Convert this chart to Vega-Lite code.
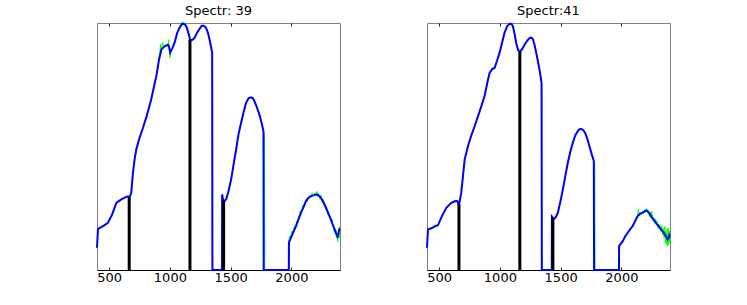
{
  "$schema": "https://vega.github.io/schema/vega-lite/v6.json",
  "background": "white",
  "padding": {"left": 92, "top": 4, "right": 0, "bottom": 0},
  "spacing": 77,
  "config": {
    "view": {"stroke": "#808080", "strokeWidth": 1},
    "title": {"font": "DejaVu Sans", "fontSize": 13, "fontWeight": "normal", "color": "black"},
    "axis": {"grid": false, "labelFont": "DejaVu Sans", "labelFontSize": 13, "labelColor": "black", "domainColor": "black", "tickColor": "#222222"}
  },
  "datasets": {
    "blue39": [
      {"w": 400, "v": 9.0}, {"w": 408, "v": 16.7}, {"w": 450, "v": 17.8}, {"w": 490, "v": 19.1}, {"w": 525, "v": 22.5},
      {"w": 559, "v": 27.2}, {"w": 600, "v": 28.6}, {"w": 641, "v": 29.6}, {"w": 655, "v": 29.8}, {"w": 663, "v": 29.0},
      {"w": 672, "v": 29.8}, {"w": 682, "v": 31.3}, {"w": 696, "v": 39.4}, {"w": 710, "v": 45}, {"w": 723, "v": 48.8},
      {"w": 750, "v": 53.5}, {"w": 778, "v": 57.5}, {"w": 810, "v": 62.5}, {"w": 846, "v": 69.0}, {"w": 870, "v": 74.5},
      {"w": 888, "v": 78.4}, {"w": 910, "v": 85}, {"w": 929, "v": 89.2}, {"w": 956, "v": 90.6}, {"w": 983, "v": 91.2},
      {"w": 992, "v": 90.5}, {"w": 1003, "v": 88.1}, {"w": 1020, "v": 89.8}, {"w": 1038, "v": 91.9}, {"w": 1060, "v": 96},
      {"w": 1079, "v": 98.0}, {"w": 1100, "v": 99.6}, {"w": 1112, "v": 99.7}, {"w": 1128, "v": 99.2}, {"w": 1140, "v": 98.0},
      {"w": 1155, "v": 95.5}, {"w": 1167, "v": 93.0}, {"w": 1185, "v": 93.2}, {"w": 1202, "v": 93.9}, {"w": 1225, "v": 96.2},
      {"w": 1244, "v": 97.6}, {"w": 1262, "v": 98.9}, {"w": 1276, "v": 98.9}, {"w": 1292, "v": 98.4}, {"w": 1304, "v": 97.3},
      {"w": 1316, "v": 95.5}, {"w": 1326, "v": 93.3}, {"w": 1338, "v": 90.5}, {"w": 1348, "v": 87.9}, {"w": 1350, "v": 0},
      {"w": 1429, "v": 0}, {"w": 1430, "v": 30.6}, {"w": 1437, "v": 28.5}, {"w": 1444, "v": 27.9}, {"w": 1452, "v": 28.0},
      {"w": 1463, "v": 28.6}, {"w": 1483, "v": 32}, {"w": 1504, "v": 36.7}, {"w": 1525, "v": 43}, {"w": 1545, "v": 48.8},
      {"w": 1565, "v": 55}, {"w": 1586, "v": 59.6}, {"w": 1607, "v": 64}, {"w": 1627, "v": 67.7}, {"w": 1648, "v": 69.6},
      {"w": 1668, "v": 69.9}, {"w": 1683, "v": 69.5}, {"w": 1696, "v": 68.3}, {"w": 1715, "v": 66}, {"w": 1737, "v": 62.9},
      {"w": 1755, "v": 59.5}, {"w": 1770, "v": 56.2}, {"w": 1772, "v": 0}, {"w": 1979, "v": 0}, {"w": 1980, "v": 11.1},
      {"w": 1997, "v": 13.1}, {"w": 2018, "v": 15.5}, {"w": 2038, "v": 17.8}, {"w": 2058, "v": 20.5}, {"w": 2079, "v": 23.2},
      {"w": 2100, "v": 25.5}, {"w": 2120, "v": 27.9}, {"w": 2140, "v": 29.2}, {"w": 2161, "v": 29.9}, {"w": 2182, "v": 30.2},
      {"w": 2202, "v": 30.6}, {"w": 2222, "v": 30.2}, {"w": 2243, "v": 29.2}, {"w": 2263, "v": 27.5}, {"w": 2284, "v": 25.2},
      {"w": 2305, "v": 22.8}, {"w": 2325, "v": 20.5}, {"w": 2343, "v": 18}, {"w": 2361, "v": 15.8}, {"w": 2372, "v": 14.2},
      {"w": 2380, "v": 13.5}, {"w": 2388, "v": 15}, {"w": 2394, "v": 16.4}, {"w": 2400, "v": 16.8}
    ],
    "green39": [
      {"w": 400, "v": 9.0}, {"w": 408, "v": 16.7}, {"w": 450, "v": 17.8}, {"w": 490, "v": 19.1}, {"w": 525, "v": 22.5},
      {"w": 559, "v": 27.2}, {"w": 600, "v": 28.6}, {"w": 641, "v": 29.6}, {"w": 655, "v": 29.8}, {"w": 663, "v": 29.0},
      {"w": 672, "v": 29.8}, {"w": 682, "v": 31.3}, {"w": 696, "v": 39.4}, {"w": 710, "v": 45}, {"w": 723, "v": 48.8},
      {"w": 750, "v": 53.5}, {"w": 778, "v": 57.5}, {"w": 810, "v": 62.5}, {"w": 846, "v": 69.0}, {"w": 870, "v": 74.5},
      {"w": 888, "v": 78.4}, {"w": 905, "v": 83.5}, {"w": 912, "v": 86.8}, {"w": 918, "v": 88.2}, {"w": 922, "v": 91.5},
      {"w": 926, "v": 87.6}, {"w": 932, "v": 90.3}, {"w": 940, "v": 92.2}, {"w": 948, "v": 89.8}, {"w": 956, "v": 90.6},
      {"w": 970, "v": 91.0}, {"w": 983, "v": 91.2}, {"w": 990, "v": 93.2}, {"w": 995, "v": 90.2}, {"w": 1000, "v": 85.8},
      {"w": 1004, "v": 86.5}, {"w": 1008, "v": 89.5}, {"w": 1020, "v": 89.8}, {"w": 1038, "v": 91.9}, {"w": 1060, "v": 96},
      {"w": 1079, "v": 98.0}, {"w": 1095, "v": 100.2}, {"w": 1105, "v": 100.6}, {"w": 1112, "v": 100.4}, {"w": 1120, "v": 99.6},
      {"w": 1128, "v": 99.2}, {"w": 1140, "v": 98.0}, {"w": 1155, "v": 95.5}, {"w": 1167, "v": 93.0}, {"w": 1185, "v": 93.2},
      {"w": 1202, "v": 93.9}, {"w": 1225, "v": 96.2}, {"w": 1244, "v": 97.6}, {"w": 1262, "v": 98.9}, {"w": 1276, "v": 98.9},
      {"w": 1292, "v": 98.4}, {"w": 1304, "v": 97.3}, {"w": 1316, "v": 95.5}, {"w": 1326, "v": 93.3}, {"w": 1338, "v": 90.5},
      {"w": 1348, "v": 87.9}, {"w": 1350, "v": 0}, {"w": 1429, "v": 0}, {"w": 1430, "v": 30.6}, {"w": 1437, "v": 28.5},
      {"w": 1444, "v": 27.9}, {"w": 1452, "v": 28.0}, {"w": 1463, "v": 28.6}, {"w": 1483, "v": 32}, {"w": 1504, "v": 36.7},
      {"w": 1525, "v": 43}, {"w": 1545, "v": 48.8}, {"w": 1565, "v": 55}, {"w": 1586, "v": 59.6}, {"w": 1607, "v": 64},
      {"w": 1627, "v": 67.7}, {"w": 1648, "v": 69.6}, {"w": 1668, "v": 69.9}, {"w": 1683, "v": 69.5}, {"w": 1696, "v": 68.3},
      {"w": 1715, "v": 66}, {"w": 1737, "v": 62.9}, {"w": 1755, "v": 59.5}, {"w": 1770, "v": 56.2}, {"w": 1776, "v": 55.2},
      {"w": 1779, "v": 54.5}, {"w": 1781, "v": 0}, {"w": 1975, "v": 0}, {"w": 1976, "v": 11.5}, {"w": 1985, "v": 13.8},
      {"w": 1992, "v": 12.9}, {"w": 1997, "v": 14.2}, {"w": 2005, "v": 15.8}, {"w": 2010, "v": 14.9}, {"w": 2018, "v": 16.2},
      {"w": 2026, "v": 17.9}, {"w": 2032, "v": 17.1}, {"w": 2038, "v": 18.5}, {"w": 2045, "v": 19.6}, {"w": 2052, "v": 20.2},
      {"w": 2058, "v": 21.3}, {"w": 2065, "v": 22.0}, {"w": 2072, "v": 23.9}, {"w": 2079, "v": 23.0}, {"w": 2088, "v": 24.7},
      {"w": 2095, "v": 26.3}, {"w": 2100, "v": 25.2}, {"w": 2110, "v": 27.1}, {"w": 2120, "v": 28.4}, {"w": 2128, "v": 27.8},
      {"w": 2135, "v": 29.6}, {"w": 2140, "v": 29.0}, {"w": 2150, "v": 30.3}, {"w": 2161, "v": 29.6}, {"w": 2170, "v": 31.2},
      {"w": 2182, "v": 30.0}, {"w": 2190, "v": 31.0}, {"w": 2202, "v": 30.1}, {"w": 2210, "v": 31.8}, {"w": 2217, "v": 29.7},
      {"w": 2222, "v": 31.0}, {"w": 2230, "v": 30.2}, {"w": 2236, "v": 28.6}, {"w": 2243, "v": 30.4}, {"w": 2250, "v": 28.7},
      {"w": 2257, "v": 27.2}, {"w": 2263, "v": 28.6}, {"w": 2270, "v": 26.4}, {"w": 2277, "v": 26.8}, {"w": 2284, "v": 24.5},
      {"w": 2290, "v": 25.6}, {"w": 2298, "v": 22.4}, {"w": 2305, "v": 23.6}, {"w": 2312, "v": 21.3}, {"w": 2318, "v": 22.0},
      {"w": 2325, "v": 19.8}, {"w": 2333, "v": 20.6}, {"w": 2340, "v": 18.1}, {"w": 2347, "v": 17.5}, {"w": 2352, "v": 15.2},
      {"w": 2358, "v": 16.8}, {"w": 2363, "v": 14.6}, {"w": 2368, "v": 16.0}, {"w": 2372, "v": 13.0}, {"w": 2377, "v": 14.8},
      {"w": 2381, "v": 11.5}, {"w": 2385, "v": 15.2}, {"w": 2390, "v": 14.2}, {"w": 2394, "v": 17.5}, {"w": 2398, "v": 12.8},
      {"w": 2400, "v": 15.5}
    ],
    "bars39": [
      {"w": 665, "v": 29.3}, {"w": 1165, "v": 93.2}, {"w": 1442, "v": 28.4}
    ],
    "blue41": [
      {"w": 400, "v": 9.0}, {"w": 408, "v": 16.4}, {"w": 440, "v": 17.0}, {"w": 470, "v": 17.8}, {"w": 490, "v": 18.1},
      {"w": 520, "v": 21.5}, {"w": 559, "v": 25.2}, {"w": 600, "v": 27.2}, {"w": 630, "v": 27.8}, {"w": 641, "v": 27.9},
      {"w": 652, "v": 27.8}, {"w": 660, "v": 26.5}, {"w": 668, "v": 27.5}, {"w": 682, "v": 31.3}, {"w": 696, "v": 38},
      {"w": 710, "v": 44.7}, {"w": 737, "v": 50.1}, {"w": 765, "v": 54.5}, {"w": 792, "v": 58.2}, {"w": 820, "v": 62.3},
      {"w": 847, "v": 66.3}, {"w": 874, "v": 70.4}, {"w": 895, "v": 75.5}, {"w": 915, "v": 79.8}, {"w": 935, "v": 81.2},
      {"w": 956, "v": 81.8}, {"w": 975, "v": 84.5}, {"w": 997, "v": 87.9}, {"w": 1018, "v": 92}, {"w": 1038, "v": 96.0},
      {"w": 1060, "v": 98.8}, {"w": 1080, "v": 99.7}, {"w": 1095, "v": 99.6}, {"w": 1107, "v": 98.7}, {"w": 1120, "v": 95.8},
      {"w": 1134, "v": 91.9}, {"w": 1150, "v": 89}, {"w": 1164, "v": 88.3}, {"w": 1184, "v": 89.5}, {"w": 1203, "v": 91.2},
      {"w": 1224, "v": 92.8}, {"w": 1244, "v": 93.9}, {"w": 1258, "v": 94.1}, {"w": 1271, "v": 93.5}, {"w": 1285, "v": 91.2},
      {"w": 1299, "v": 87.9}, {"w": 1313, "v": 84.5}, {"w": 1326, "v": 81.1}, {"w": 1343, "v": 75.7}, {"w": 1345, "v": 0},
      {"w": 1427, "v": 0}, {"w": 1428, "v": 21.6}, {"w": 1438, "v": 21.0}, {"w": 1449, "v": 20.8}, {"w": 1462, "v": 21.6},
      {"w": 1477, "v": 23.2}, {"w": 1497, "v": 27.5}, {"w": 1518, "v": 32.6}, {"w": 1539, "v": 38.2}, {"w": 1559, "v": 43.4},
      {"w": 1580, "v": 48}, {"w": 1600, "v": 51.5}, {"w": 1620, "v": 54.5}, {"w": 1641, "v": 56.2}, {"w": 1655, "v": 57},
      {"w": 1669, "v": 57.1}, {"w": 1685, "v": 56.7}, {"w": 1702, "v": 55.5}, {"w": 1720, "v": 53}, {"w": 1737, "v": 50.1},
      {"w": 1755, "v": 47}, {"w": 1773, "v": 44.1}, {"w": 1775, "v": 0}, {"w": 1980, "v": 0}, {"w": 1981, "v": 9.7},
      {"w": 2011, "v": 11.7}, {"w": 2030, "v": 13.5}, {"w": 2052, "v": 15.1}, {"w": 2072, "v": 16.5}, {"w": 2093, "v": 17.8},
      {"w": 2113, "v": 19.8}, {"w": 2134, "v": 21.8}, {"w": 2155, "v": 22.8}, {"w": 2176, "v": 23.2}, {"w": 2192, "v": 23.7},
      {"w": 2208, "v": 24.1}, {"w": 2225, "v": 23.2}, {"w": 2244, "v": 21.8}, {"w": 2265, "v": 20.3}, {"w": 2285, "v": 19.1},
      {"w": 2305, "v": 17.8}, {"w": 2326, "v": 16.4}, {"w": 2346, "v": 15.2}, {"w": 2367, "v": 13.7}, {"w": 2381, "v": 12.4},
      {"w": 2390, "v": 13}, {"w": 2395, "v": 14.0}, {"w": 2400, "v": 13.5}
    ],
    "green41": [
      {"w": 400, "v": 9.0}, {"w": 408, "v": 16.4}, {"w": 440, "v": 17.0}, {"w": 470, "v": 17.8}, {"w": 490, "v": 18.1},
      {"w": 520, "v": 21.5}, {"w": 559, "v": 25.2}, {"w": 600, "v": 27.2}, {"w": 630, "v": 27.8}, {"w": 641, "v": 28.4},
      {"w": 652, "v": 27.8}, {"w": 660, "v": 26.5}, {"w": 668, "v": 27.5}, {"w": 682, "v": 31.3}, {"w": 696, "v": 38},
      {"w": 710, "v": 44.7}, {"w": 737, "v": 50.1}, {"w": 765, "v": 54.5}, {"w": 792, "v": 58.2}, {"w": 820, "v": 62.3},
      {"w": 847, "v": 66.3}, {"w": 874, "v": 70.4}, {"w": 895, "v": 75.5}, {"w": 915, "v": 79.8}, {"w": 935, "v": 81.9},
      {"w": 956, "v": 81.8}, {"w": 975, "v": 84.5}, {"w": 997, "v": 87.9}, {"w": 1018, "v": 92}, {"w": 1038, "v": 96.0},
      {"w": 1060, "v": 98.8}, {"w": 1080, "v": 99.7}, {"w": 1095, "v": 99.6}, {"w": 1107, "v": 98.7}, {"w": 1120, "v": 95.8},
      {"w": 1134, "v": 91.9}, {"w": 1150, "v": 89}, {"w": 1164, "v": 88.3}, {"w": 1184, "v": 89.5}, {"w": 1203, "v": 91.2},
      {"w": 1224, "v": 92.8}, {"w": 1244, "v": 93.9}, {"w": 1258, "v": 94.1}, {"w": 1271, "v": 93.5}, {"w": 1285, "v": 91.2},
      {"w": 1299, "v": 87.9}, {"w": 1313, "v": 84.5}, {"w": 1326, "v": 81.1}, {"w": 1343, "v": 75.7}, {"w": 1345, "v": 0},
      {"w": 1427, "v": 0}, {"w": 1428, "v": 21.6}, {"w": 1438, "v": 21.0}, {"w": 1449, "v": 20.8}, {"w": 1462, "v": 21.6},
      {"w": 1477, "v": 23.2}, {"w": 1497, "v": 27.5}, {"w": 1518, "v": 32.6}, {"w": 1539, "v": 38.2}, {"w": 1559, "v": 43.4},
      {"w": 1580, "v": 48}, {"w": 1600, "v": 51.5}, {"w": 1620, "v": 54.5}, {"w": 1641, "v": 56.2}, {"w": 1655, "v": 57},
      {"w": 1669, "v": 57.1}, {"w": 1685, "v": 56.7}, {"w": 1702, "v": 55.5}, {"w": 1720, "v": 53}, {"w": 1737, "v": 50.1},
      {"w": 1755, "v": 47}, {"w": 1773, "v": 44.1}, {"w": 1778, "v": 43.3}, {"w": 1781, "v": 42.5}, {"w": 1783, "v": 0},
      {"w": 1978, "v": 0}, {"w": 1979, "v": 10.0}, {"w": 1990, "v": 10.5}, {"w": 2000, "v": 11.0}, {"w": 2011, "v": 11.9},
      {"w": 2020, "v": 12.4}, {"w": 2030, "v": 14.2}, {"w": 2040, "v": 14.0}, {"w": 2052, "v": 15.4}, {"w": 2060, "v": 15.9},
      {"w": 2072, "v": 16.8}, {"w": 2082, "v": 17.0}, {"w": 2093, "v": 18.3}, {"w": 2103, "v": 19.0}, {"w": 2113, "v": 20.4},
      {"w": 2122, "v": 21.0}, {"w": 2134, "v": 22.5}, {"w": 2140, "v": 24.6}, {"w": 2146, "v": 22.3}, {"w": 2155, "v": 23.4},
      {"w": 2165, "v": 22.5}, {"w": 2176, "v": 24.0}, {"w": 2184, "v": 22.9}, {"w": 2192, "v": 24.5}, {"w": 2200, "v": 23.6},
      {"w": 2208, "v": 24.8}, {"w": 2215, "v": 23.4}, {"w": 2225, "v": 24.2}, {"w": 2232, "v": 21.5}, {"w": 2238, "v": 23.5},
      {"w": 2244, "v": 21.0}, {"w": 2250, "v": 23.8}, {"w": 2256, "v": 20.4}, {"w": 2265, "v": 21.3}, {"w": 2272, "v": 18.9},
      {"w": 2278, "v": 20.8}, {"w": 2285, "v": 18.5}, {"w": 2292, "v": 20.0}, {"w": 2298, "v": 17.2}, {"w": 2305, "v": 18.6},
      {"w": 2312, "v": 16.5}, {"w": 2318, "v": 18.4}, {"w": 2326, "v": 15.6}, {"w": 2333, "v": 17.9}, {"w": 2340, "v": 14.2},
      {"w": 2346, "v": 16.8}, {"w": 2352, "v": 13.0}, {"w": 2357, "v": 17.6}, {"w": 2362, "v": 11.0}, {"w": 2367, "v": 15.8},
      {"w": 2372, "v": 10.3}, {"w": 2376, "v": 16.5}, {"w": 2381, "v": 9.5}, {"w": 2386, "v": 17.0}, {"w": 2390, "v": 10.4},
      {"w": 2395, "v": 15.7}, {"w": 2398, "v": 11.0}, {"w": 2400, "v": 14.0}
    ],
    "bars41": [
      {"w": 663, "v": 26.8}, {"w": 1164, "v": 88.3}, {"w": 1436, "v": 21.2}
    ]
  },
  "hconcat": [
    {
      "title": {"text": "Spectr: 39", "offset": 2},
      "width": 243,
      "height": 247,
      "layer": [
        {
          "data": {"name": "green39"},
          "mark": {"type": "line", "color": "#00ff00", "strokeWidth": 1},
          "encoding": {
            "x": {"field": "w", "type": "quantitative", "scale": {"domain": [400, 2400], "nice": false, "zero": false},
                  "axis": {"orient": "bottom", "values": [500, 1000, 1500, 2000], "format": "d", "title": null, "tickSize": -3, "labelPadding": 4}},
            "y": {"field": "v", "type": "quantitative", "scale": {"domain": [0, 100], "nice": false},
                  "axis": {"title": null, "labels": false, "ticks": false}}
          }
        },
        {
          "data": {"name": "blue39"},
          "mark": {"type": "line", "color": "#0000ff", "strokeWidth": 2},
          "encoding": {
            "x": {"field": "w", "type": "quantitative", "scale": {"domain": [400, 2400], "nice": false, "zero": false},
                  "axis": {"orient": "top", "values": [500, 1000, 1500, 2000], "title": null, "labels": false, "domain": false, "tickSize": -3}},
            "y": {"field": "v", "type": "quantitative", "scale": {"domain": [0, 100], "nice": false},
                  "axis": {"title": null, "labels": false, "ticks": false}}
          }
        },
        {
          "data": {"name": "bars39"},
          "mark": {"type": "rule", "color": "black", "strokeWidth": 3},
          "encoding": {
            "x": {"field": "w", "type": "quantitative", "axis": null},
            "y": {"field": "v", "type": "quantitative", "axis": null},
            "y2": {"datum": 0}
          }
        }
      ]
    },
    {
      "title": {"text": "Spectr:41", "offset": 2},
      "width": 243,
      "height": 247,
      "layer": [
        {
          "data": {"name": "green41"},
          "mark": {"type": "line", "color": "#00ff00", "strokeWidth": 1},
          "encoding": {
            "x": {"field": "w", "type": "quantitative", "scale": {"domain": [400, 2400], "nice": false, "zero": false},
                  "axis": {"orient": "bottom", "values": [500, 1000, 1500, 2000], "format": "d", "title": null, "tickSize": -3, "labelPadding": 4}},
            "y": {"field": "v", "type": "quantitative", "scale": {"domain": [0, 100], "nice": false},
                  "axis": {"title": null, "labels": false, "ticks": false}}
          }
        },
        {
          "data": {"name": "blue41"},
          "mark": {"type": "line", "color": "#0000ff", "strokeWidth": 2},
          "encoding": {
            "x": {"field": "w", "type": "quantitative", "scale": {"domain": [400, 2400], "nice": false, "zero": false},
                  "axis": {"orient": "top", "values": [500, 1000, 1500, 2000], "title": null, "labels": false, "domain": false, "tickSize": -3}},
            "y": {"field": "v", "type": "quantitative", "scale": {"domain": [0, 100], "nice": false},
                  "axis": {"title": null, "labels": false, "ticks": false}}
          }
        },
        {
          "data": {"name": "bars41"},
          "mark": {"type": "rule", "color": "black", "strokeWidth": 3},
          "encoding": {
            "x": {"field": "w", "type": "quantitative", "axis": null},
            "y": {"field": "v", "type": "quantitative", "axis": null},
            "y2": {"datum": 0}
          }
        }
      ]
    }
  ]
}
